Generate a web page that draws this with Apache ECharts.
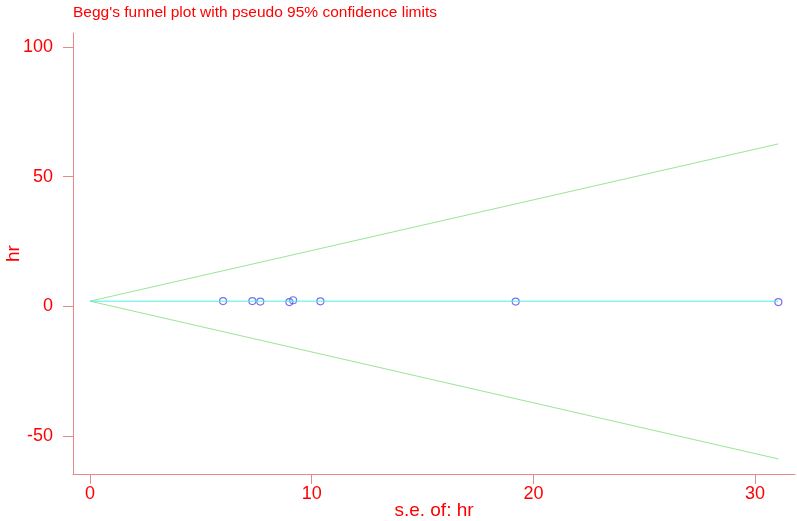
<!DOCTYPE html>
<html>
<head>
<meta charset="utf-8">
<script src="https://cdn.jsdelivr.net/npm/echarts@6/dist/echarts.min.js"></script>
<style>
  html, body { margin: 0; padding: 0; background: #fff; }
  #chart { width: 797px; height: 521px; }
</style>
</head>
<body>
<div id="chart"></div>
<script>
// study points (s.e. of hr, hr)
var seValues = [6.0, 7.32, 7.68, 8.99, 9.16, 10.39, 19.2, 31.05]
var hrValues = [2.1, 2.1, 1.9, 1.7, 2.4, 2.0, 1.9, 1.7]

// pseudo 95% limits, read at the two ends
var limitSe = [0, 31.05]
var centerLine = [2.05, 2.05]
var upperLimit = [2.05, 62.6]
var lowerLimit = [2.05, -58.7]

var xTicks = [0, 10, 20, 30]
var yTicks = [-50, 0, 50, 100]

var red = '#ff0000'
var axisColor = '#e58a8a'
var font = 'Liberation Sans, Arial, sans-serif'

function pairs(xs, ys) {
  return xs.map(function (x, i) { return [x, ys[i]] })
}

var chart = echarts.init(document.getElementById('chart'))
chart.setOption({
  animation: false,
  backgroundColor: '#fff',
  title: {
    text: "Begg's funnel plot with pseudo 95% confidence limits",
    left: 68,
    top: 0,
    textStyle: { color: red, fontSize: 15.5, fontWeight: 'normal', fontFamily: font }
  },
  grid: { left: 73, right: 2, top: 33, bottom: 47, containLabel: false, outerBoundsMode: 'none' },
  xAxis: {
    type: 'value',
    min: -0.77,
    max: 31.8,
    name: 's.e. of: hr',
    nameLocation: 'middle',
    nameGap: 27,
    nameMoveOverlap: false,
    nameTextStyle: { color: red, fontSize: 19, fontFamily: font },
    axisLine: { show: true, onZero: false, lineStyle: { color: axisColor, width: 1 } },
    axisTick: { show: true, length: 10, customValues: xTicks, lineStyle: { color: axisColor } },
    axisLabel: { color: red, fontSize: 18, fontFamily: font, margin: 11, customValues: xTicks },
    splitLine: { show: false }
  },
  yAxis: {
    type: 'value',
    min: -64.5,
    max: 105.3,
    name: 'hr',
    nameLocation: 'middle',
    nameGap: 50,
    nameMoveOverlap: false,
    nameTextStyle: { color: red, fontSize: 19, fontFamily: font },
    axisLine: { show: true, onZero: false, lineStyle: { color: axisColor, width: 1 } },
    axisTick: { show: true, length: 10, customValues: yTicks, lineStyle: { color: axisColor } },
    axisLabel: { color: red, fontSize: 18, fontFamily: font, margin: 20, customValues: yTicks },
    splitLine: { show: false }
  },
  series: [
    {
      type: 'line',
      data: pairs(limitSe, upperLimit),
      symbol: 'none',
      lineStyle: { color: '#98e698', width: 1 }
    },
    {
      type: 'line',
      data: pairs(limitSe, lowerLimit),
      symbol: 'none',
      lineStyle: { color: '#98e698', width: 1 }
    },
    {
      type: 'line',
      data: pairs(limitSe, centerLine),
      symbol: 'none',
      lineStyle: { color: '#4fecec', width: 1 }
    },
    {
      type: 'scatter',
      data: pairs(seValues, hrValues),
      symbol: 'circle',
      symbolSize: 7,
      itemStyle: { color: 'rgba(0,0,0,0)', borderColor: '#5050e8', borderWidth: 1.2 }
    }
  ]
})
</script>
</body>
</html>
